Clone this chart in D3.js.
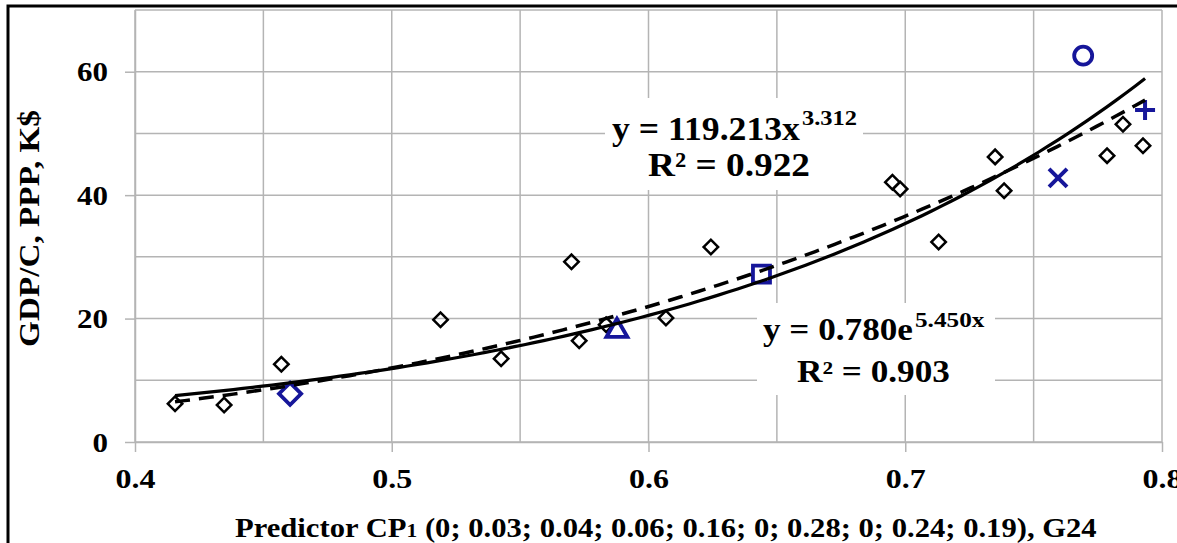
<!DOCTYPE html>
<html>
<head>
<meta charset="utf-8">
<script src="https://cdn.jsdelivr.net/npm/d3@7"></script>
<style>
  html, body { margin: 0; padding: 0; background: #fff; overflow: hidden; }
  text { font-family: "Liberation Serif", "Times New Roman", serif; font-weight: bold; fill: #000; }
</style>
</head>
<body>
<svg id="chart"></svg>
<script>
// Chart size
const width = 1177;
const height = 543;

// Data: predictor CP1 vs GDP per capita (PPP, K$)
const cpValues = [0.4156, 0.4347, 0.457, 0.519, 0.5426, 0.570, 0.573, 0.5835, 0.6068, 0.6243,
  0.695, 0.698, 0.713, 0.735, 0.7385, 0.7786, 0.7848, 0.7926];
const gdpValues = [6.2, 6.0, 12.6, 19.8, 13.5, 29.2, 16.4, 19.0, 20.1, 31.6,
  42.1, 41.0, 32.4, 46.2, 40.7, 46.4, 51.5, 48.0];

// Highlighted (blue) points
const hlShapes = ["diamond", "triangle", "square", "cross", "circle", "plus"];
const hlCp = [0.4604, 0.5877, 0.644, 0.7595, 0.7693, 0.7934];
const hlGdp = [7.8, 18.0, 27.2, 42.8, 62.6, 53.8];

// Trend lines (as printed on the chart)
const powerCoef = [119.213, 3.312];   // y = a * x^b
const expCoef = [0.780, 5.450];       // y = a * e^(b x)

// Axis ticks
const xTicks = [0.4, 0.5, 0.6, 0.7, 0.8];
const yTicks = [0, 20, 40, 60];

const svg = d3.select("#chart")
  .attr("width", width)
  .attr("height", height);

const x = d3.scaleLinear().domain([0.4, 0.8]).range([135, 1162]);
const y = d3.scaleLinear().domain([0, 70]).range([442, 10]);

const gridColor = "#b4b4b4";
const blue = "#16169a";

// Stretch a text node horizontally to a given width
function fitText(sel, w) {
  const bw = sel.node().getBBox().width;
  return w / bw;
}

// Outer frame
svg.append("rect")
  .attr("x", 8).attr("y", 6)
  .attr("width", 1200).attr("height", 600)
  .attr("fill", "none")
  .attr("stroke", "#000")
  .attr("stroke-width", 3);

// Gridlines
svg.append("g").selectAll("line")
  .data(x.ticks(8))
  .join("line")
  .attr("x1", d => x(d)).attr("x2", d => x(d))
  .attr("y1", y(70)).attr("y2", y(0))
  .attr("stroke", gridColor).attr("stroke-width", 1.5);

svg.append("g").selectAll("line")
  .data(y.ticks(7))
  .join("line")
  .attr("x1", x(0.4)).attr("x2", x(0.8))
  .attr("y1", d => y(d)).attr("y2", d => y(d))
  .attr("stroke", gridColor).attr("stroke-width", 1.5);

// Axes
const xAxis = svg.append("g")
  .attr("transform", `translate(0,${y(0)})`)
  .call(d3.axisBottom(x).tickValues(xTicks).tickSize(10).tickSizeOuter(0).tickFormat(d3.format(".1f")));

const yAxis = svg.append("g")
  .attr("transform", `translate(${x(0.4)},0)`)
  .call(d3.axisLeft(y).tickValues(yTicks).tickSize(10).tickSizeOuter(0));

[xAxis, yAxis].forEach(g => {
  g.select(".domain").attr("stroke", gridColor).attr("stroke-width", 1.5);
  g.selectAll(".tick line").attr("stroke", gridColor).attr("stroke-width", 1.5);
});

xAxis.selectAll("text")
  .attr("y", 46).attr("dy", null)
  .attr("font-size", 28)
  .attr("font-family", "Liberation Serif")
  .attr("font-weight", "bold")
  .attr("textLength", 40)
  .attr("lengthAdjust", "spacingAndGlyphs");

yAxis.selectAll("text")
  .attr("x", -27).attr("dy", null).attr("y", 9)
  .attr("font-size", 27)
  .attr("font-family", "Liberation Serif")
  .attr("font-weight", "bold")
  .attr("textLength", d => String(d).length * 15.5)
  .attr("lengthAdjust", "spacingAndGlyphs");

// Axis titles
const yTitle = svg.append("text")
  .attr("text-anchor", "middle")
  .attr("font-size", 30)
  .text("GDP/C, PPP, K$");
yTitle.attr("transform", `translate(39,228.5) rotate(-90) scale(${fitText(yTitle, 237)},1)`);

const xTitle = svg.append("text")
  .attr("font-size", 27);
xTitle.append("tspan").text("Predictor CP");
xTitle.append("tspan").attr("font-size", 19).text("1");
xTitle.append("tspan").text(" (0; 0.03; 0.04; 0.06; 0.16; 0; 0.28; 0; 0.24; 0.19), G24");
xTitle.attr("transform", `translate(235,537) scale(${fitText(xTitle, 862)},1)`);

// Black diamonds
svg.append("g").selectAll("path")
  .data(cpValues)
  .join("path")
  .attr("d", d3.symbol(d3.symbolSquare, 105))
  .attr("transform", (d, i) => `translate(${x(d)},${y(gdpValues[i])}) rotate(45)`)
  .attr("fill", "none")
  .attr("stroke", "#000")
  .attr("stroke-width", 2.5);

// Blue highlighted markers
const markerPath = {
  diamond: d3.symbol(d3.symbolSquare, 245)(),
  triangle: d3.symbol(d3.symbolTriangle, 190)(),
  square: d3.symbol(d3.symbolSquare, 290)(),
  circle: d3.symbol(d3.symbolCircle, 254)(),
  cross: "M-9,-9L9,9M-9,9L9,-9",
  plus: "M-10,0H10M0,-10V10"
};

svg.append("g").selectAll("path")
  .data(hlShapes)
  .join("path")
  .attr("d", d => markerPath[d])
  .attr("transform", (d, i) => `translate(${x(hlCp[i])},${y(hlGdp[i])})` + (d === "diamond" ? " rotate(45)" : ""))
  .attr("fill", "none")
  .attr("stroke", blue)
  .attr("stroke-width", d => (d === "cross" || d === "plus") ? 4 : 3.8);

// Trend lines over the data range
const allX = cpValues.concat(hlCp);
const xMin = d3.min(allX), xMax = d3.max(allX);
const xs = d3.range(0, 101).map(k => xMin + (xMax - xMin) * k / 100);

const line = d3.line().x(d => x(d[0])).y(d => y(d[1]));

svg.append("path")
  .attr("d", line(xs.map(v => [v, powerCoef[0] * Math.pow(v, powerCoef[1])])))
  .attr("fill", "none")
  .attr("stroke", "#000")
  .attr("stroke-width", 3.5)
  .attr("stroke-dasharray", "15,9");

svg.append("path")
  .attr("d", line(xs.map(v => [v, expCoef[0] * Math.exp(expCoef[1] * v)])))
  .attr("fill", "none")
  .attr("stroke", "#000")
  .attr("stroke-width", 3.2);

// Equation labels
function label(x0, base, w, txt, size) {
  const t = svg.append("text").attr("font-size", size).text(txt);
  t.attr("transform", `translate(${x0},${base}) scale(${fitText(t, w)},1)`);
}

svg.append("rect").attr("x", 605).attr("y", 98).attr("width", 258).attr("height", 92).attr("fill", "#fff");
label(612, 140, 188, "y = 119.213x", 34);
label(802, 125, 55, "3.312", 22);
label(648, 176, 162, "R² = 0.922", 34);

svg.append("rect").attr("x", 757).attr("y", 303).attr("width", 238).attr("height", 92).attr("fill", "#fff");
label(763, 340, 150, "y = 0.780e", 31);
label(915, 327, 70, "5.450x", 21);
label(797, 382, 153, "R² = 0.903", 31);
</script>
</body>
</html>
